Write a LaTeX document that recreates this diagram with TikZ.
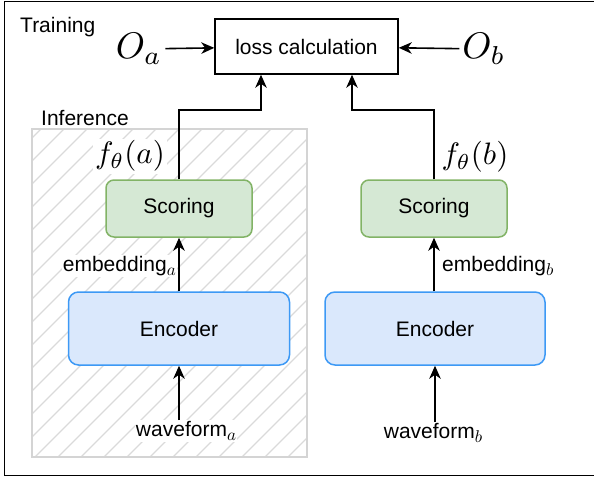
\documentclass[tikz,border=0pt]{standalone}
\usepackage{fontspec}
\setmainfont{Liberation Sans}
\usetikzlibrary{arrows.meta}

\definecolor{scorefill}{HTML}{D5E8D4}
\definecolor{scoreline}{HTML}{82B366}
\definecolor{encfill}{HTML}{DAE8FC}
\definecolor{encline}{HTML}{3D99F5}
\definecolor{infline}{HTML}{D4D4D4}
\definecolor{hatchline}{HTML}{DADADA}

% math pieces scaled from 10pt
\newcommand{\bigmath}[2]{{\fontsize{10}{12}\selectfont\scalebox{#1}{$#2$}}}
\newcommand{\lblsub}[1]{\raisebox{-4pt}{\bigmath{1.7}{#1}}}

\begin{document}
\begin{tikzpicture}[x=1pt,y=-1pt,
    txt/.style={inner sep=1pt, font=\fontsize{21}{25}\selectfont},
    lbl/.style={txt, fill=white},
    arr/.style={line width=1.6, -{Stealth[length=13pt,width=11.5pt,inset=4pt]}},
    scorebox/.style={draw=scoreline, fill=scorefill, line width=1.5, rounded corners=8, minimum width=146, minimum height=57, txt},
    encbox/.style={draw=encline, fill=encfill, line width=1.5, rounded corners=10, minimum width=220, minimum height=73, txt}]
    \useasboundingbox (0,0) rectangle (594,477);
    
    %Shape: Rectangle [outer frame]
    \draw [line width=1.5] (4.5,1.5) rectangle (600,475.5);
    
    %Shape: Rectangle [inference area, hatched]
    \begin{scope}
    \clip (32,129) rectangle (307,457);
    \foreach \k in {-15,...,12}
        \draw [hatchline, line width=1.3] ({35+23*\k},457) -- ++(340,-340);
    \end{scope}
    \draw [infline, line width=1.5] (32,129) rectangle (307,457);
    
    % Text Node
    \node (train) [txt, anchor=west] at (19,27) {Training};
    % Text Node
    \node (infer) [txt, anchor=west] at (40,118) {Inference};
    
    %Shape: Rectangle [loss]
    \node (loss) [draw, line width=1.5, minimum width=183, minimum height=55, txt] at (306.5,46.5) {loss calculation};
    % Text Node
    \node (Oa) [inner sep=3pt] at (139,49) {\bigmath{3.7}{O_a}};
    % Text Node
    \node (Ob) [inner sep=3pt] at (484,49) {\bigmath{3.7}{O_b}};
    
    %Rounded Rect [scoring]
    \node (scoreA) [scorebox] at (179,208.5) {Scoring};
    \node (scoreB) [scorebox] at (434,208.5) {Scoring};
    %Rounded Rect [encoder]
    \node (encA) [encbox, minimum width=221] at (179,328.5) {Encoder};
    \node (encB) [encbox] at (435,328.5) {Encoder};
    
    % Text Node
    \node (fA) [inner sep=2pt, fill=white] at (130,156) {\bigmath{3.1}{f_\theta(a)}};
    \node (fB) [inner sep=2pt] at (475,157) {\bigmath{3.1}{f_\theta(b)}};
    % Text Node
    \node (embA) [lbl, anchor=east] at (177,266) {embedding\lblsub{a}};
    \node (embB) [lbl, anchor=west] at (441,266) {embedding\lblsub{b}};
    % Text Node
    \node (waveA) [lbl] at (186,431) {waveform\lblsub{a}};
    \node (waveB) [lbl] at (433,433) {waveform\lblsub{b}};
    
    %Straight Lines
    \draw [arr] (Oa) -- (loss);
    \draw [arr] (Ob) -- (loss);
    \draw [arr] (scoreA.north) -- ++(0,-69) -| ([xshift=-45.5]loss.south);
    \draw [arr] (scoreB.north) -- ++(0,-69) -| ([xshift=45.5]loss.south);
    \draw [arr] (encA.north) -- (scoreA.south);
    \draw [arr] (encB.north -| scoreB.south) -- (scoreB.south);
    \draw [arr] (waveA.north -| encA.south) -- (encA.south);
    \draw [arr] (waveB.north -| encB.south) -- (encB.south);
    
\end{tikzpicture}
\end{document}
